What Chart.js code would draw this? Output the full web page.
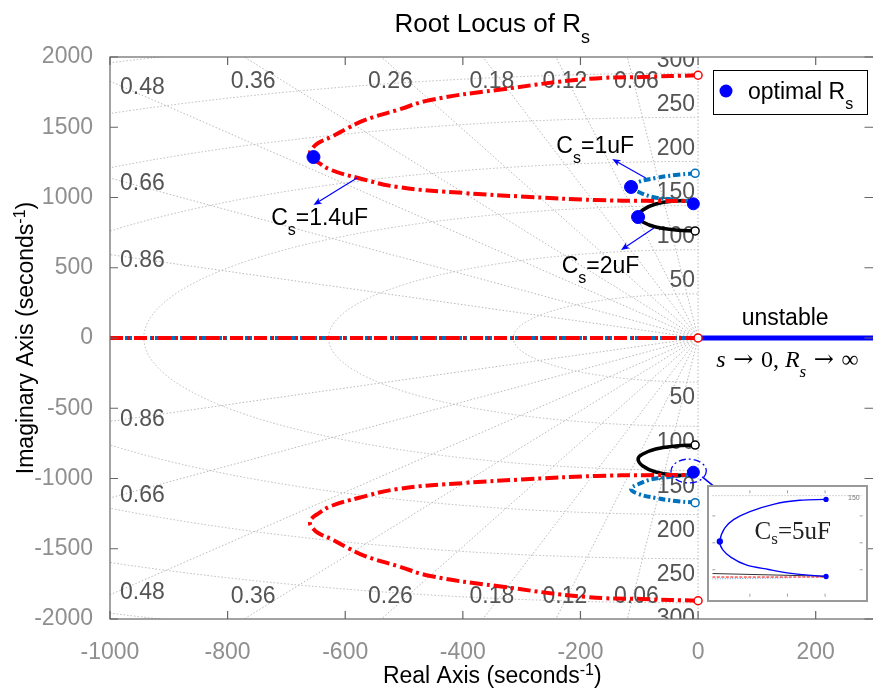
<!DOCTYPE html>
<html>
<head>
<meta charset="utf-8">
<script src="https://cdn.jsdelivr.net/npm/chart.js@4.4.0/dist/chart.umd.min.js"></script>
<style>
html,body{margin:0;padding:0;background:#fff;overflow:hidden;width:873px;height:691px}
#wrap{position:relative;width:882px;height:691px}
#main{position:absolute;left:0;top:0}
#inset{position:absolute;left:707px;top:485px}
</style>
</head>
<body>
<div id="wrap">
  <canvas id="main" width="882" height="691"></canvas>
  <canvas id="inset" width="161" height="117"></canvas>
</div>
<script>
const SANS = '"Liberation Sans", Arial, sans-serif';
const SERIF = '"Liberation Serif", "Times New Roman", serif';
const ARROWF = '"DejaVu Serif", serif';

const xTicks = [-1000, -800, -600, -400, -200, 0, 200];
const yTicks = [-2000, -1500, -1000, -500, 0, 500, 1000, 1500, 2000];

// upper branches (lower half is the conjugate)
const c14Re = [0, -94, -190, -342, -455, -511, -566, -595, -624, -646, -656, -660, -657, -646, -624, -578, -511, -398, -286, -173, -89, -3];
const c14Im = [1870, 1858, 1843, 1765, 1694, 1623, 1552, 1495, 1431, 1388, 1350, 1318, 1285, 1250, 1196, 1139, 1075, 1032, 1004, 982, 976, 975];
const c1Re = [-5, -38, -72, -101, -114, -101, -77, -50, -21, -3];
const c1Im = [1172, 1160, 1139, 1110, 1075, 1039, 1004, 989, 976, 975];
const c2Re = [-5, -38, -72, -94, -102, -94, -72, -38, -10, -3];
const c2Im = [762, 769, 790, 826, 861, 911, 954, 975, 975, 975];
const realRe = [-1000, 0];
const unstableRe = [0, 300];

// optimal R_s points (1.4uF, 1uF, 2uF, 5uF, 5uF)
const optRe = [-654, -114, -102, -8, -8];
const optIm = [1288, 1075, 861, 955, -955];

// s-grid
const zetaVals = [0.06, 0.12, 0.18, 0.26, 0.36, 0.48, 0.66, 0.86];
const freqHz = [50, 100, 150, 200, 250, 300, 350, 400];
const freqLabels = [50, 100, 150, 200, 250, 300];

// inset: Cs = 5uF close to -955j
const c5Re = [0.1, -2.7, -5.4, -8.0, -9.7, -10.7, -11.2, -10.9, -10.0, -8.4, -6.0, -3.4, 0.1];
const c5Im = [-943.9, -944.2, -945.6, -948.4, -951.3, -954.6, -959.5, -962.5, -965.4, -968.2, -969.9, -971.4, -972.5];
const insetBlackIm = [-971.4, -972.4];
const insetRedIm = [-972.7, -972.7];
const insetSteelIm = [-973.4, -973.0];

const RED = '#ff0000', STEEL = '#0072bd', BLK = '#000000', BLUE = '#0000ff';

function pts(re, im, sign) { return re.map((x, i) => ({ x, y: sign * im[i] })); }

function branch(re, im, sign, color, dash, width, order) {
  return {
    data: pts(re, im, sign), showLine: true, borderColor: color, borderWidth: width,
    borderDash: dash, tension: 0.45, order,
    pointRadius: c => c.dataIndex === 0 ? 4 : 0,
    pointBackgroundColor: '#fff', pointBorderColor: color, pointBorderWidth: 1.5
  };
}

// parts: [text, 'sub'|'sup'|'', italic, family]
function rich(ctx, parts, x, y, align, base, fam, color) {
  const fnt = p => (p[2] ? 'italic ' : '') + (p[1] ? Math.round(base * 0.7) : base) + 'px ' + (p[3] || fam);
  let w = 0;
  parts.forEach(p => { ctx.font = fnt(p); w += ctx.measureText(p[0]).width; });
  let cx = align === 'center' ? x - w / 2 : align === 'right' ? x - w : x;
  ctx.textAlign = 'left'; ctx.textBaseline = 'alphabetic'; ctx.fillStyle = color || '#000';
  parts.forEach(p => {
    ctx.font = fnt(p);
    const dy = p[1] === 'sub' ? base * 0.43 : p[1] === 'sup' ? -base * 0.36 : 0;
    ctx.fillText(p[0], cx, y + dy);
    cx += ctx.measureText(p[0]).width;
  });
}

function arrow(ctx, x1, y1, x2, y2, head, lw) {
  ctx.save();
  ctx.setLineDash([]);
  ctx.strokeStyle = BLUE; ctx.fillStyle = BLUE; ctx.lineWidth = lw;
  const a = Math.atan2(y2 - y1, x2 - x1);
  ctx.beginPath(); ctx.moveTo(x1, y1); ctx.lineTo(x2 - head * 0.6 * Math.cos(a), y2 - head * 0.6 * Math.sin(a)); ctx.stroke();
  ctx.beginPath();
  ctx.moveTo(x2, y2);
  ctx.lineTo(x2 - head * Math.cos(a - 0.38), y2 - head * Math.sin(a - 0.38));
  ctx.lineTo(x2 - head * 0.7 * Math.cos(a), y2 - head * 0.7 * Math.sin(a));
  ctx.lineTo(x2 - head * Math.cos(a + 0.38), y2 - head * Math.sin(a + 0.38));
  ctx.closePath(); ctx.fill();
  ctx.restore();
}

const sgrid = {
  id: 'sgrid',
  beforeDatasetsDraw(chart) {
    const { ctx, chartArea: a, scales: { x, y } } = chart;
    const ox = x.getPixelForValue(0), oy = y.getPixelForValue(0);
    const kx = (x.getPixelForValue(1000) - ox) / 1000, ky = (oy - y.getPixelForValue(1000)) / 1000;
    ctx.save();
    ctx.beginPath(); ctx.rect(a.left, a.top, a.width, a.height); ctx.clip();
    ctx.strokeStyle = '#b8b8b8'; ctx.lineWidth = 1; ctx.setLineDash([1.5, 2]);
    zetaVals.concat([0]).forEach(z => {
      [1, -1].forEach(s => {
        ctx.beginPath(); ctx.moveTo(ox, oy);
        ctx.lineTo(x.getPixelForValue(-5000 * z), y.getPixelForValue(s * 5000 * Math.sqrt(1 - z * z)));
        ctx.stroke();
      });
    });
    freqHz.forEach(f => {
      const r = 2 * Math.PI * f;
      ctx.beginPath(); ctx.ellipse(ox, oy, r * kx, r * ky, 0, Math.PI / 2, Math.PI * 1.5); ctx.stroke();
    });
    ctx.setLineDash([]);
    ctx.fillStyle = '#545454'; ctx.font = '23px ' + SANS; ctx.textBaseline = 'middle';
    zetaVals.forEach(z => {
      const t = Math.sqrt(1 - z * z) / z;
      const s = z.toFixed(2);
      if (t * 1000 <= 2000) {
        ctx.textAlign = 'left';
        ctx.fillText(s, a.left + 10, y.getPixelForValue(t * 1000) + 6);
        ctx.fillText(s, a.left + 10, y.getPixelForValue(-t * 1000) - 2);
      } else {
        ctx.textAlign = 'center';
        const px = x.getPixelForValue(-2000 / t) + 9;
        ctx.fillText(s, px, a.top + 25);
        ctx.fillText(s, px, a.bottom - 22);
      }
    });
    ctx.textAlign = 'right';
    freqLabels.forEach(f => {
      const r = 2 * Math.PI * f;
      ctx.fillText(String(f), ox - 3, y.getPixelForValue(r) - 13);
      ctx.fillText(String(f), ox - 3, y.getPixelForValue(-r) + 16);
    });
    ctx.restore();
  },
  afterDraw(chart) {
    const { ctx, chartArea: a, scales: { x, y } } = chart;
    const X = v => x.getPixelForValue(v), Y = v => y.getPixelForValue(v);
    ctx.save();
    // box and inward ticks
    ctx.strokeStyle = '#666'; ctx.lineWidth = 1.2; ctx.setLineDash([]);
    ctx.strokeRect(a.left, a.top, a.width, a.height);
    ctx.beginPath();
    xTicks.forEach(v => { const p = X(v); ctx.moveTo(p, a.top); ctx.lineTo(p, a.top + 8); ctx.moveTo(p, a.bottom); ctx.lineTo(p, a.bottom - 8); });
    yTicks.forEach(v => { const p = Y(v); ctx.moveTo(a.left, p); ctx.lineTo(a.left + 8, p); ctx.moveTo(a.right, p); ctx.lineTo(a.right - 10, p); });
    ctx.stroke();

    // titles
    const cx = (a.left + a.right) / 2;
    rich(ctx, [['Root Locus of R', ''], ['s', 'sub']], cx, 32, 'center', 26, SANS);
    rich(ctx, [['Real Axis (seconds', ''], ['-1', 'sup'], [')', '']], cx, 683, 'center', 23, SANS);
    ctx.save(); ctx.translate(33, (a.top + a.bottom) / 2); ctx.rotate(-Math.PI / 2);
    rich(ctx, [['Imaginary Axis (seconds', ''], ['-1', 'sup'], [')', '']], 0, 0, 'center', 23, SANS);
    ctx.restore();

    // annotations
    arrow(ctx, X(-580), Y(1139), X(-654), Y(947), 9, 1.2);
    rich(ctx, [['C', ''], ['s', 'sub'], ['=1.4uF', '']], X(-726), Y(804), 'left', 23, SANS);
    arrow(ctx, X(-89), Y(1139), X(-146), Y(1274), 9, 1.2);
    rich(ctx, [['C', ''], ['s', 'sub'], ['=1uF', '']], X(-241), Y(1317), 'left', 23, SANS);
    arrow(ctx, X(-75), Y(783), X(-131), Y(626), 9, 1.2);
    rich(ctx, [['C', ''], ['s', 'sub'], ['=2uF', '']], X(-232), Y(463), 'left', 23, SANS);
    rich(ctx, [['unstable', '']], X(148), Y(93), 'center', 23, SANS);
    rich(ctx, [['s', '', true], [' \u2192 ', '', false, ARROWF], ['0, ', ''], ['R', '', true], ['s', 'sub', true], [' \u2192 ', '', false, ARROWF], ['\u221e', '']],
      X(152), Y(-206), 'center', 24, SERIF);

    // zoom ellipse and arrow to inset
    ctx.strokeStyle = BLUE; ctx.lineWidth = 1.3; ctx.setLineDash([7, 3, 2, 3]);
    ctx.beginPath();
    ctx.ellipse(X(-16), Y(-947), X(30) - X(0), Y(0) - Y(85), 0, 0, Math.PI * 2);
    ctx.stroke();
    arrow(ctx, X(7), Y(-989), X(71), Y(-1203), 15, 1.5);

    // legend
    ctx.setLineDash([]);
    ctx.fillStyle = '#fff'; ctx.fillRect(713, 70, 154, 44);
    ctx.strokeStyle = '#000'; ctx.lineWidth = 1; ctx.strokeRect(713.5, 70.5, 154, 44);
    ctx.fillStyle = BLUE; ctx.beginPath(); ctx.arc(726, 91, 6.5, 0, Math.PI * 2); ctx.fill();
    rich(ctx, [['optimal R', ''], ['s', 'sub']], 748, 99, 'left', 23, SANS);
    ctx.restore();
  }
};

const tickFont = { family: SANS, size: 23 };

new Chart(document.getElementById('main'), {
  type: 'scatter',
  data: {
    datasets: [
      { data: pts(optRe, optIm, 1), backgroundColor: BLUE, borderColor: BLUE, pointRadius: [6.5, 6.5, 6.5, 6, 6], order: 0 },
      { data: [{ x: 0, y: 0 }], pointRadius: 4, pointBackgroundColor: '#fff', pointBorderColor: RED, pointBorderWidth: 1.5, order: 0.5 },
      { data: unstableRe.map(v => ({ x: v, y: 0 })), showLine: true, borderColor: BLUE, borderWidth: 5, pointRadius: 0, order: 1 },
      branch(c14Re, c14Im, 1, RED, [13, 4, 3, 4], 4, 2),
      branch(c14Re, c14Im, -1, RED, [13, 4, 3, 4], 4, 2),
      { data: realRe.map(v => ({ x: v, y: 0 })), showLine: true, borderColor: RED, borderWidth: 4, borderDash: [13, 4, 3, 4], pointRadius: 0, order: 2 },
      branch(c1Re, c1Im, 1, STEEL, [7, 3, 2, 3], 4, 3),
      branch(c1Re, c1Im, -1, STEEL, [7, 3, 2, 3], 4, 3),
      { data: realRe.map(v => ({ x: v, y: 0 })), showLine: true, borderColor: STEEL, borderWidth: 4, borderDash: [7, 3, 2, 3], pointRadius: 0, order: 3 },
      branch(c2Re, c2Im, 1, BLK, [], 3.5, 4),
      branch(c2Re, c2Im, -1, BLK, [], 3.5, 4)
    ]
  },
  options: {
    responsive: false, animation: false, events: [],
    layout: { padding: { top: 57, right: 1.5, left: 0, bottom: 0 } },
    plugins: { legend: { display: false }, tooltip: { enabled: false } },
    scales: {
      x: {
        type: 'linear', min: -1000, max: 300,
        afterBuildTicks: s => { s.ticks = xTicks.map(v => ({ value: v })); },
        afterFit: s => { s.height = 72; },
        grid: { display: false }, border: { display: false },
        ticks: { padding: 12, color: '#8f8f8f', font: tickFont, maxRotation: 0, callback: v => String(v) }
      },
      y: {
        type: 'linear', min: -2000, max: 2000,
        afterBuildTicks: s => { s.ticks = yTicks.map(v => ({ value: v })); },
        afterFit: s => { s.width = 110; },
        grid: { display: false }, border: { display: false },
        ticks: { padding: 9, color: '#8f8f8f', font: tickFont, callback: v => String(v) }
      }
    }
  },
  plugins: [sgrid]
});

// inset
const insetDeco = {
  id: 'insetDeco',
  beforeDatasetsDraw(chart) {
    const { ctx, chartArea: a, scales: { x, y } } = chart;
    ctx.save();
    ctx.fillStyle = '#fff'; ctx.fillRect(0, 0, chart.width, chart.height);
    ctx.strokeStyle = '#c8c8c8'; ctx.lineWidth = 1; ctx.setLineDash([1.5, 1.5]);
    const gy = y.getPixelForValue(-2 * Math.PI * 150);
    ctx.beginPath(); ctx.moveTo(a.left, gy); ctx.lineTo(a.right, gy); ctx.stroke();
    ctx.setLineDash([]);
    ctx.fillStyle = '#777'; ctx.font = '7px ' + SANS; ctx.textAlign = 'right'; ctx.textBaseline = 'middle';
    ctx.fillText('150', a.right - 3, gy + 2);
    ctx.restore();
  },
  afterDraw(chart) {
    const { ctx, chartArea: a, scales: { x, y } } = chart;
    ctx.save();
    ctx.strokeStyle = '#a0a0a0'; ctx.lineWidth = 1;
    ctx.beginPath();
    [-8, -4, 0].forEach(v => { const p = x.getPixelForValue(v); ctx.moveTo(p, a.top); ctx.lineTo(p, a.top + 3); ctx.moveTo(p, a.bottom); ctx.lineTo(p, a.bottom - 3); });
    [-950, -960, -970].forEach(v => { const p = y.getPixelForValue(v); ctx.moveTo(a.left, p); ctx.lineTo(a.left + 3, p); ctx.moveTo(a.right, p); ctx.lineTo(a.right - 3, p); });
    ctx.stroke();
    ctx.strokeStyle = '#999'; ctx.lineWidth = 2;
    ctx.strokeRect(1, 1, chart.width - 2, chart.height - 2);
    // label
    ctx.fillStyle = '#222'; ctx.textAlign = 'left'; ctx.textBaseline = 'alphabetic';
    const tx = x.getPixelForValue(-7.5), ty = y.getPixelForValue(-958.5);
    ctx.font = '25px ' + SERIF; ctx.fillText('C', tx, ty);
    let w = ctx.measureText('C').width;
    ctx.font = '17px ' + SERIF; ctx.fillText('s', tx + w, ty + 5);
    w += ctx.measureText('s').width;
    ctx.font = '25px ' + SERIF; ctx.fillText('=5uF', tx + w, ty);
    ctx.restore();
  }
};

new Chart(document.getElementById('inset'), {
  type: 'scatter',
  data: {
    datasets: [
      { data: pts(c5Re, c5Im, 1), showLine: true, borderColor: BLUE, borderWidth: 1.3, tension: 0.35,
        pointRadius: c => (c.dataIndex === 0 || c.dataIndex === 12) ? 2 : c.dataIndex === 6 ? 2.5 : 0,
        pointBackgroundColor: BLUE, pointBorderColor: BLUE, order: 0 },
      { data: pts([-12, 0.1], insetRedIm, 1), showLine: true, borderColor: RED, borderWidth: 1, borderDash: [3, 1.5], pointRadius: 0, order: 1 },
      { data: pts([-12, 0.1], insetBlackIm, 1), showLine: true, borderColor: '#333', borderWidth: 1, pointRadius: 0, order: 2 },
      { data: pts([-12, -3.7], insetSteelIm, 1), showLine: true, borderColor: '#55a0d8', borderWidth: 1, borderDash: [1, 1.5], pointRadius: 0, order: 3 }
    ]
  },
  options: {
    responsive: false, animation: false, events: [],
    layout: { padding: 0 },
    plugins: { legend: { display: false }, tooltip: { enabled: false } },
    scales: {
      x: { type: 'linear', display: false, min: -12, max: 4 },
      y: { type: 'linear', display: false, min: -980, max: -940.5 }
    }
  },
  plugins: [insetDeco]
});
</script>
</body>
</html>
